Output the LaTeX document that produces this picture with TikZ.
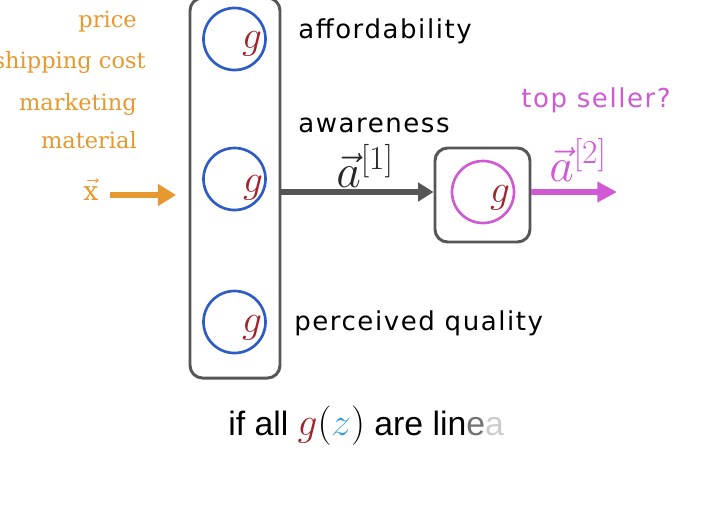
\RequirePackage{fix-cm}
\documentclass[tikz,border=0pt]{standalone}
\usepackage{fontspec}
\usetikzlibrary{arrows.meta}
\newfontfamily\policeentree{DejaVu Serif}
\newfontfamily\policeetiq{DejaVu Sans}[LetterSpace=6]
\newfontfamily\policenote{Liberation Sans}
\definecolor{couleurentree}{HTML}{E5992F}
\definecolor{couleurneur}{HTML}{2E5CC6}
\definecolor{couleursort}{HTML}{D059D4}
\definecolor{couleurg}{HTML}{A3212B}
\definecolor{couleurz}{HTML}{3F9FDD}
\definecolor{couleurcadre}{HTML}{565656}
\newcommand{\lienhorz}[3]{\draw[#1] (#2) -- (#3);}
\tikzset{
		cadre/.style={draw=couleurcadre, line width=2.1pt, rounded corners=9pt},
		neurone/.style={circle, draw=couleurneur, line width=1.9pt, minimum size=1.55cm, inner sep=0pt},
		fonctg/.style={text=couleurg, font=\fontsize{28}{28}\selectfont, inner sep=0pt},
		entree/.style={text=couleurentree, font=\policeentree\fontsize{16}{16}\selectfont, anchor=base east, inner sep=0pt},
		etiquette/.style={font=\policeetiq\fontsize{18.5}{18.5}\selectfont, anchor=base west, inner sep=0pt},
		vecteur/.style={font=\fontsize{34}{34}\selectfont, inner sep=0pt},
		fleche/.style={line width=3.6pt, -{Triangle[length=13pt, width=15pt]}}
	}

\begin{document}
\begin{tikzpicture}[x=0.025cm, y=-0.025cm]
		\useasboundingbox (0,0) rectangle (722,522);
		% entrees
		\node[entree](prix) at (137,27) {price};
		\node[entree](livraison) at (146,68) {shipping cost};
		\node[entree](marketing) at (137,110) {marketing};
		\node[entree](materiel) at (137,148) {material};
		\node[entree, anchor=base](vecx) at (91,200) {\fontsize{19}{19}\selectfont$\vec{\hbox{x}}$};
		\coordinate (departx) at (110,195);
		
		% couche 1
		\node[cadre, minimum width=2.25cm, minimum height=9.5cm](couche1) at (235,188) {};
		\node[neurone](afford) at (234.5,39) {};
		\node[neurone](aware) at (234.5,179) {};
		\node[neurone](percqual) at (234.5,322) {};
		\node[fonctg](gafford) at (252,44) {$g$};
		\node[fonctg](gaware) at (253,188) {$g$};
		\node[fonctg](gpercq) at (252,328) {$g$};
		\node[etiquette](lafford) at (298,38) {affordability};
		\node[etiquette](laware) at (298,132) {awareness};
		\node[etiquette](lpercq) at (294,330) {perceived quality};
		
		% couche 2
		\node[cadre, minimum width=2.375cm, minimum height=2.35cm](couche2) at (482.5,195) {};
		\node[neurone, draw=couleursort](topsell) at (483,192) {};
		\node[fonctg](gtopsel) at (500,198) {$g$};
		\node[etiquette, text=couleursort](ltopsel) at (521,107) {top seller?};
		\coordinate (finsort) at (617,192);
		
		% vecteurs
		\node[vecteur, text=black!85](vecaun) at (365,166) {$\vec{a}^{[1]}$};
		\node[vecteur, text=couleursort](vecadeux) at (578,160) {$\vec{a}^{[2]}$};
		
		% Liens
		\lienhorz{fleche, couleurentree, shorten >=0.31cm}{departx}{departx -| couche1.west}
		\lienhorz{fleche, couleurcadre, -{Triangle[length=11pt, width=13pt]}}{couche1.east |- topsell}{topsell -| couche2.west}
		\lienhorz{fleche, couleursort, -{Triangle[length=14pt, width=14pt]}}{couche2.east |- topsell}{finsort}
		
		% remarque
		\node[font=\policenote\fontsize{24}{24}\selectfont, anchor=base west, inner sep=0pt](remarque) at (228,435) {if all {\fontsize{28}{28}\selectfont$\textcolor{couleurg}{g}(\textcolor{couleurz}{z})$} are lin\textcolor{black!55}{e}\textcolor{black!20}{a}};
	\end{tikzpicture}
\end{document}
